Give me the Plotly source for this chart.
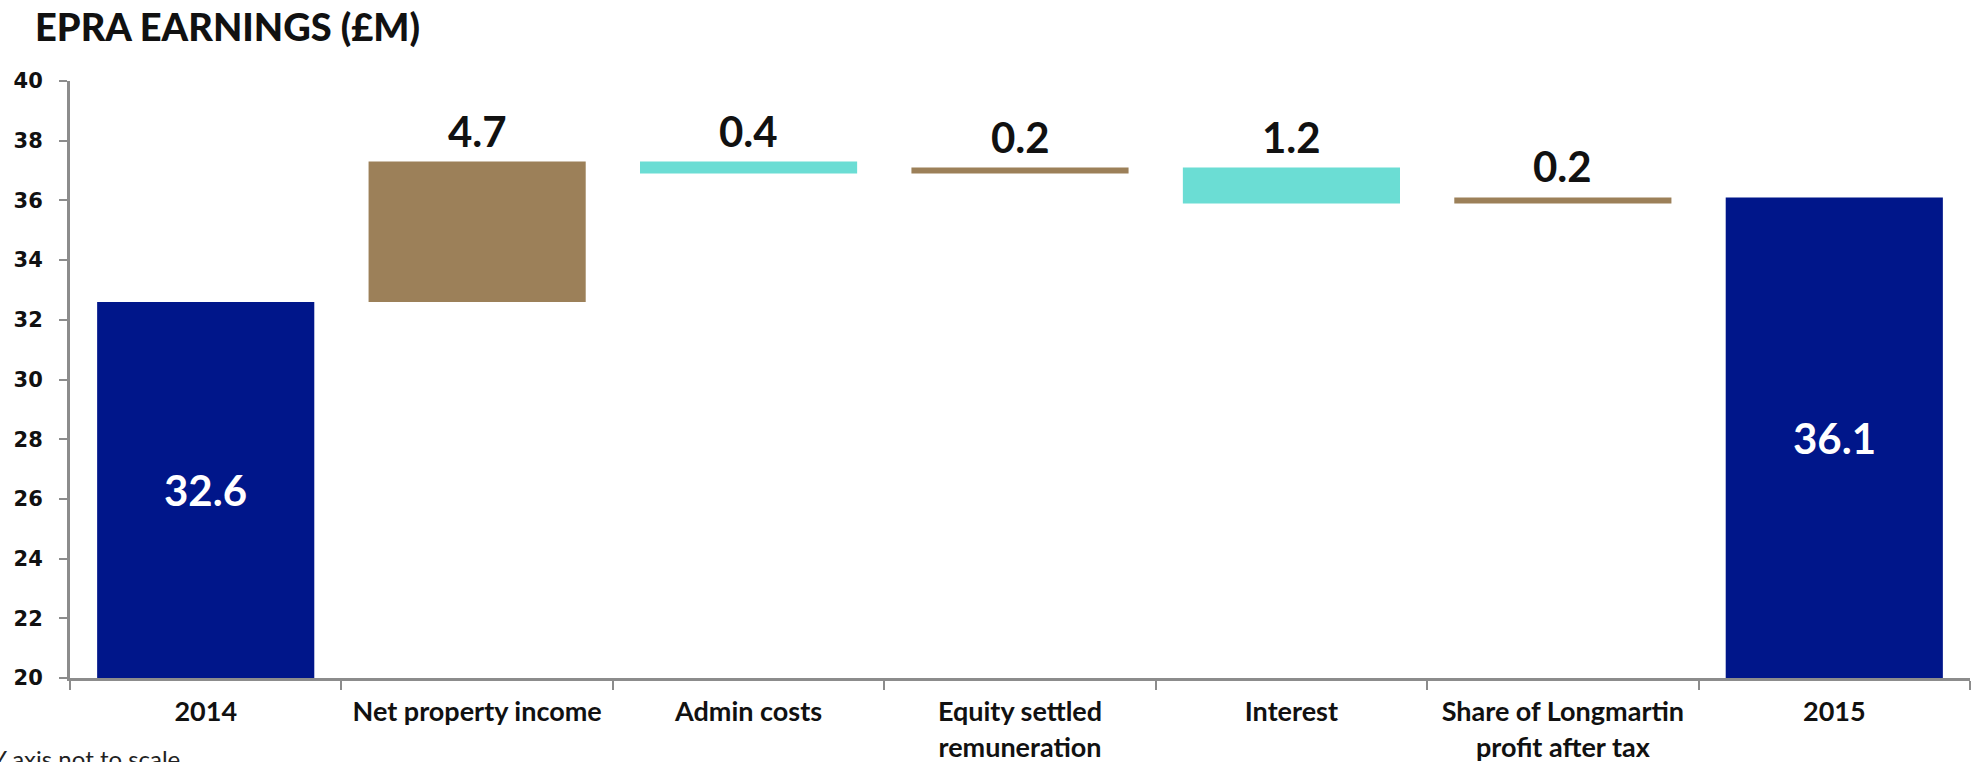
import plotly.graph_objects as go

# EPRA earnings bridge, 2014 -> 2015 (GBP m)
categories = [
    "2014",
    "Net property income",
    "Admin costs",
    "Equity settled<br>remuneration",
    "Interest",
    "Share of Longmartin<br>profit after tax",
    "2015",
]
measures = ["absolute", "relative", "relative", "relative", "relative", "relative", "total"]
values = [32.6, 4.7, -0.4, 0.2, -1.2, 0.2, 0]
labels = ["32.6", "4.7", "0.4", "0.2", "1.2", "0.2", "36.1"]

Y_MIN, Y_MAX = 20, 40

NAVY = "#00168A"
BROWN = "#9C8059"
TEAL = "#6BDDD4"
AXIS_GREY = "#8C8C8C"

fig = go.Figure(
    go.Waterfall(
        x=categories,
        y=values,
        measure=measures,
        increasing=dict(marker=dict(color=BROWN)),
        decreasing=dict(marker=dict(color=TEAL)),
        totals=dict(marker=dict(color=NAVY)),
        connector=dict(visible=False),
        hoverinfo="skip",
    )
)

# value labels: above the step bars, centred inside the total bars
# (annotations are placed by category index so "2014"/"2015" are not read as numbers)
running = 0.0
for i, (m, v, lab) in enumerate(zip(measures, values, labels)):
    if m == "absolute":
        start, end = 0.0, v
        running = v
    elif m == "total":
        start, end = 0.0, running
    else:
        start, end = running, running + v
        running = end
    if m == "relative":
        fig.add_annotation(
            x=i, y=max(start, end), text=lab, showarrow=False,
            yanchor="bottom", yshift=4,
            font=dict(family="Lato", size=42, color="#111111", weight="bold"),
        )
    else:
        fig.add_annotation(
            x=i, y=(Y_MIN + end) / 2, text=lab, showarrow=False,
            yanchor="middle",
            font=dict(family="Lato", size=42, color="#FFFFFF", weight="bold"),
        )

fig.add_annotation(
    xref="paper", yref="paper", x=0, y=0, xanchor="left", yanchor="top",
    xshift=-80, yshift=-64, showarrow=False,
    text="Y axis not to scale",
    font=dict(family="Lato", size=24, color="#222222"),
)

fig.update_layout(
    width=1977,
    height=762,
    margin=dict(l=70, r=7, t=81, b=84),
    paper_bgcolor="white",
    plot_bgcolor="white",
    showlegend=False,
    bargap=0.2,
    title=dict(
        text="EPRA EARNINGS (£M)",
        xref="container", yref="container",
        x=35 / 1977, xanchor="left",
        y=1 - 28 / 762, yanchor="middle",
        font=dict(family="Lato", size=38, color="#111111", weight=900),
    ),
    xaxis=dict(
        type="category",
        range=[-0.5, len(categories) - 0.5],
        automargin=False,
        showline=True, linecolor=AXIS_GREY, linewidth=3,
        ticks="outside", tickson="boundaries", ticklen=9, tickwidth=2,
        tickcolor=AXIS_GREY, showgrid=False, tickangle=0,
        ticklabelstandoff=8,
        tickfont=dict(family="Lato", size=27, color="#111111", weight="bold"),
    ),
    yaxis=dict(
        range=[Y_MIN, Y_MAX], dtick=2, showgrid=False, zeroline=False,
        automargin=False,
        showline=True, linecolor=AXIS_GREY, linewidth=3,
        ticks="outside", ticklen=8, tickwidth=2, tickcolor=AXIS_GREY,
        ticklabelstandoff=12,
        tickfont=dict(family="DejaVu Sans", size=21, color="#111111", weight="bold"),
    ),
)

fig.write_html("out.html")
